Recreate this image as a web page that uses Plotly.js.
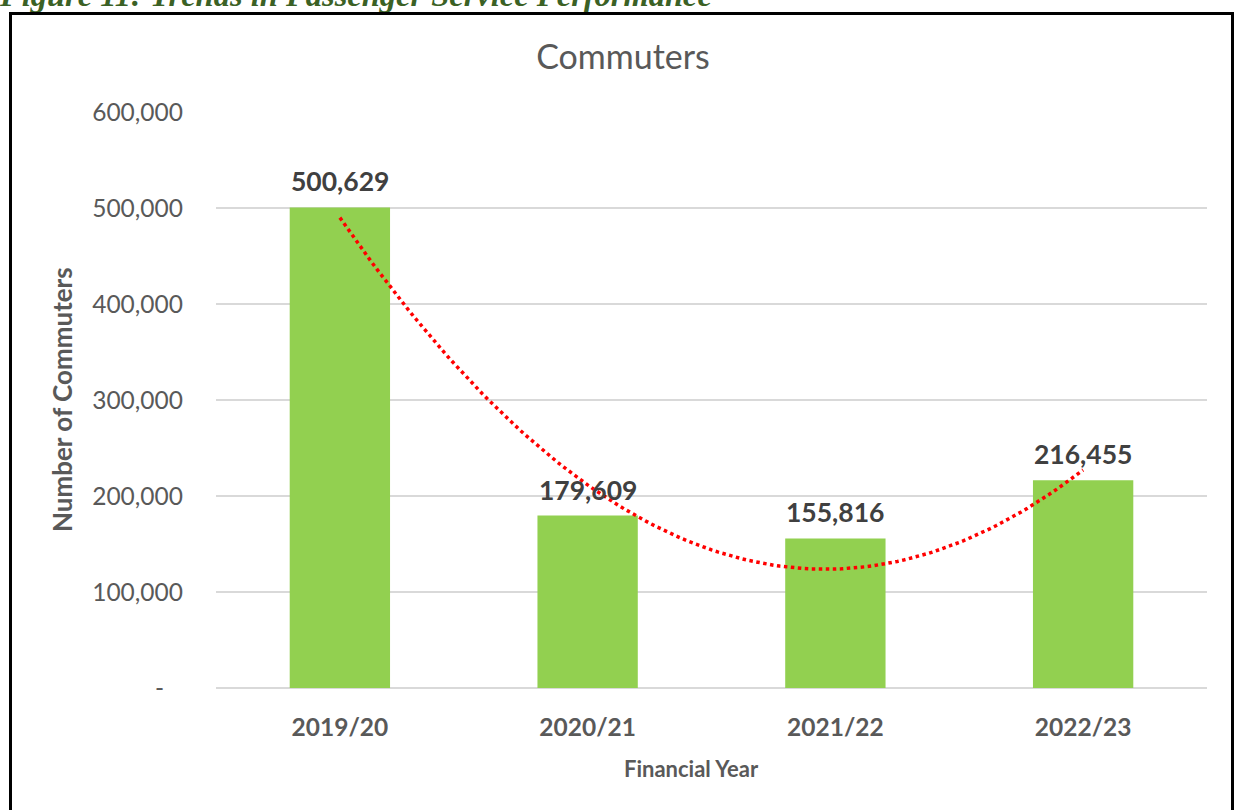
<!DOCTYPE html>
<html>
<head>
<meta charset="utf-8">
<script src="https://cdn.plot.ly/plotly-3.0.1.min.js"></script>
<style>
  html, body { margin: 0; padding: 0; width: 1236px; height: 810px; overflow: hidden; background: #fff; }
  #caption { position: absolute; left: 0px; top: -21px; font-family: "Liberation Serif", "DejaVu Serif", serif; font-weight: bold; font-style: italic; font-size: 32.5px; line-height: 32.5px; color: #3b6125; white-space: nowrap; }
  #chart { position: absolute; left: 0; top: 0; width: 1236px; height: 810px; }
  #frame { position: absolute; left: 9px; top: 12px; width: 1225px; height: 830px; box-sizing: border-box; border: 3px solid #000; pointer-events: none; }
</style>
</head>
<body>
<div id="caption">Figure 11: Trends in Passenger Service Performance</div>
<div id="chart"></div>
<div id="frame"></div>
<script>
// ---- data ----
const categories = ["2019/20", "2020/21", "2021/22", "2022/23"];
const commuters = [500629, 179609, 155816, 216455];
const yTickValues = [0, 100000, 200000, 300000, 400000, 500000, 600000];
const yTickLabels = ["-\u00a0\u00a0\u00a0", "100,000", "200,000", "300,000", "400,000", "500,000", "600,000"];

// ---- order-2 polynomial trendline (least squares fit of the bar values, as Excel does) ----
const xIdx = categories.map((_, i) => i);
function polyfit2(xs, ys) {
  let S = [0,0,0,0,0], T = [0,0,0];
  xs.forEach((x, i) => {
    for (let k = 0; k < 5; k++) S[k] += Math.pow(x, k);
    for (let k = 0; k < 3; k++) T[k] += ys[i] * Math.pow(x, k);
  });
  const A = [[S[0],S[1],S[2],T[0]],[S[1],S[2],S[3],T[1]],[S[2],S[3],S[4],T[2]]];
  for (let c = 0; c < 3; c++) {
    for (let r = c + 1; r < 3; r++) {
      const f = A[r][c] / A[c][c];
      for (let k = c; k < 4; k++) A[r][k] -= f * A[c][k];
    }
  }
  const b = [0,0,0];
  for (let r = 2; r >= 0; r--) {
    let s = A[r][3];
    for (let k = r + 1; k < 3; k++) s -= A[r][k] * b[k];
    b[r] = s / A[r][r];
  }
  return b;
}
const coef = polyfit2(xIdx, commuters);
const trendX = [], trendY = [];
for (let i = 0; i <= 120; i++) {
  const x = (xIdx.length - 1) * i / 120;
  trendX.push(x);
  trendY.push(coef[0] + coef[1] * x + coef[2] * x * x);
}

const fmt = v => v.toLocaleString("en-US");
const FONT = "Lato, 'Open Sans', sans-serif";

const W = 1236, H = 810;
const L = 216, R = 1207, T = 112, B = 688;

const bars = {
  type: "bar",
  x: xIdx,
  y: commuters,
  width: 0.405,
  marker: { color: "#92d050" },
  hoverinfo: "skip",
  showlegend: false
};
const trend = {
  type: "scatter",
  mode: "lines",
  x: trendX,
  y: trendY,
  line: { color: "#ff0000", width: 3.5, dash: "dot" },
  hoverinfo: "skip",
  showlegend: false
};

const labelAnns = commuters.map((v, i) => ({
  x: xIdx[i], y: v, xref: "x", yref: "y",
  text: "<b>" + fmt(v) + "</b>",
  showarrow: false, yanchor: "middle", xanchor: "center", yshift: 26,
  font: { family: FONT, size: 26.5, color: "#404040" }
}));

const layout = {
  width: W, height: H,
  margin: { l: L, r: W - R, t: T, b: H - B, pad: 0 },
  paper_bgcolor: "rgba(0,0,0,0)",
  plot_bgcolor: "rgba(0,0,0,0)",
  font: { family: FONT, color: "#595959" },
  title: {
    text: "Commuters",
    x: 623 / W, xref: "container", xanchor: "center",
    y: 1 - 57 / H, yref: "container", yanchor: "middle",
    font: { family: FONT, size: 34, color: "#595959" }
  },
  xaxis: {
    range: [-0.5, xIdx.length - 0.5],
    tickmode: "array", tickvals: xIdx, ticktext: categories.map(c => "<b>" + c + "</b>"),
    tickfont: { family: FONT, size: 24.5, color: "#595959" },
    showgrid: false, zeroline: false, showline: false, ticks: "",
    ticklabelstandoff: 22,
    fixedrange: true
  },
  yaxis: {
    range: [0, 600000],
    tickmode: "array", tickvals: yTickValues, ticktext: yTickLabels,
    tickfont: { family: FONT, size: 24.5, color: "#595959" },
    showgrid: true, gridcolor: "#d9d9d9", gridwidth: 1.5,
    zeroline: true, zerolinecolor: "#d9d9d9", zerolinewidth: 1.5,
    showline: false, ticks: "",
    ticklabelstandoff: 32,
    automargin: false,
    fixedrange: true
  },
  annotations: labelAnns.concat([
    {
      text: "<b>Financial Year</b>", xref: "paper", yref: "paper",
      x: (691 - L) / (R - L), y: -(768 - B) / (B - T),
      xanchor: "center", yanchor: "middle", showarrow: false,
      font: { family: FONT, size: 22, color: "#595959" }
    },
    {
      text: "<b>Number of Commuters</b>", xref: "paper", yref: "paper",
      x: -(L - 62) / (R - L), y: 0.5, textangle: -90,
      xanchor: "center", yanchor: "middle", showarrow: false,
      font: { family: FONT, size: 26, color: "#595959" }
    }
  ]),
  bargap: 0.6
};

Plotly.newPlot("chart", [bars, trend], layout, { staticPlot: true, displayModeBar: false });
</script>
</body>
</html>
